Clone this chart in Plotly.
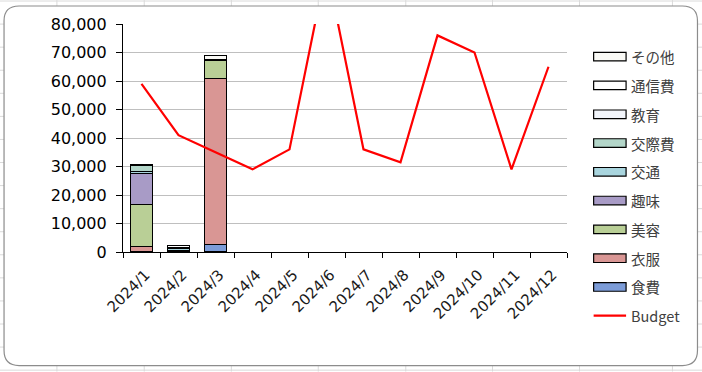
import plotly.graph_objects as go

# ---------------- data ----------------
months = ["2024/1", "2024/2", "2024/3", "2024/4", "2024/5", "2024/6",
          "2024/7", "2024/8", "2024/9", "2024/10", "2024/11", "2024/12"]

shokuhi   = [0,    400,  2700, 0, 0, 0, 0, 0, 0, 0, 0, 0]      # 食費
ifuku     = [1800, 0,   58300, 0, 0, 0, 0, 0, 0, 0, 0, 0]      # 衣服
biyou     = [15000, 0,   6300, 0, 0, 0, 0, 0, 0, 0, 0, 0]      # 美容
shumi     = [10700, 0,      0, 0, 0, 0, 0, 0, 0, 0, 0, 0]      # 趣味
koutsu    = [700, 1000,     0, 0, 0, 0, 0, 0, 0, 0, 0, 0]      # 交通
kousaihi  = [2300,  0,      0, 0, 0, 0, 0, 0, 0, 0, 0, 0]      # 交際費
kyouiku   = [0,     0,      0, 0, 0, 0, 0, 0, 0, 0, 0, 0]      # 教育
tsuushin  = [200, 900,    300, 0, 0, 0, 0, 0, 0, 0, 0, 0]      # 通信費
sonota    = [100,   0,   1400, 0, 0, 0, 0, 0, 0, 0, 0, 0]      # その他

budget = [59000, 41000, 35000, 29000, 36000, 100000,
          36000, 31500, 76000, 70000, 29000, 65000]

series_names = ["食費", "衣服", "美容", "趣味", "交通", "交際費", "教育", "通信費", "その他"]
series_values = [shokuhi, ifuku, biyou, shumi, koutsu, kousaihi, kyouiku, tsuushin, sonota]
series_colors = ["#7C9CD8", "#D99694", "#B9CF96", "#A89BC6", "#A9D5DE",
                 "#B3D6C9", "#F2F5FB", "#FFFFFF", "#FAFAF6"]

y_ticks = [0, 10000, 20000, 30000, 40000, 50000, 60000, 70000, 80000]

# ---------------- geometry helpers ----------------
W, H = 702, 372
PL, PR, PT, PB = 123.3, 566.7, 24.0, 252.3   # plot area in pixels

def px(x):
    return (x - PL) / (PR - PL)

def py(y):
    return (PB - y) / (PB - PT)

fig = go.Figure()

for name, vals, col in zip(series_names, series_values, series_colors):
    fig.add_trace(go.Bar(
        x=months, y=[v if v else None for v in vals], name=name,
        marker=dict(color=col, line=dict(color="#000000", width=1.2)),
        showlegend=False,
    ))

fig.add_trace(go.Scatter(
    x=months, y=budget, name="Budget", mode="lines",
    line=dict(color="#FF0000", width=2.2),
    showlegend=False,
))

shapes = []
# spreadsheet cell grid behind the chart
for k in range(18):
    yy = 1 + 23.1 * k
    shapes.append(dict(type="line", xref="paper", yref="paper", layer="below",
                       x0=px(0), x1=px(W), y0=py(yy), y1=py(yy),
                       line=dict(color="#DADADA", width=1)))
for xx in [57.3, 144.5, 231.5, 318.3, 405.7, 492.3, 579.2, 672.0]:
    shapes.append(dict(type="line", xref="paper", yref="paper", layer="below",
                       x0=px(xx), x1=px(xx), y0=py(0), y1=py(H),
                       line=dict(color="#DADADA", width=1)))

# rounded chart area
x0, x1, y0, y1, r = 4.5, 697.0, 6.0, 366.0, 15.0
def P(x, y):
    return f"{px(x)},{py(y)}"
path = (f"M {P(x0 + r, y0)} L {P(x1 - r, y0)} Q {P(x1, y0)} {P(x1, y0 + r)} "
        f"L {P(x1, y1 - r)} Q {P(x1, y1)} {P(x1 - r, y1)} "
        f"L {P(x0 + r, y1)} Q {P(x0, y1)} {P(x0, y1 - r)} "
        f"L {P(x0, y0 + r)} Q {P(x0, y0)} {P(x0 + r, y0)} Z")
shapes.append(dict(type="path", xref="paper", yref="paper", layer="below",
                   path=path, fillcolor="#FFFFFF",
                   line=dict(color="#8C8C8C", width=1.2)))

# custom legend
legend_y = [56.7, 85.5, 114.4, 143.2, 172.0, 200.8, 229.7, 258.5, 287.3, 316.0]
legend_order = list(range(len(series_names)))[::-1]   # その他 ... 食費
annotations = []
sx0, sx1 = 593.3, 625.7
for i, idx in enumerate(legend_order):
    yc = legend_y[i]
    shapes.append(dict(type="rect", xref="paper", yref="paper", layer="above",
                       x0=px(sx0), x1=px(sx1), y0=py(yc - 4.3), y1=py(yc + 4.3),
                       fillcolor=series_colors[idx],
                       line=dict(color="#000000", width=1.2)))
    annotations.append(dict(xref="paper", yref="paper", x=px(629), y=py(yc),
                            xanchor="left", yanchor="middle", showarrow=False,
                            text=series_names[idx],
                            font=dict(family="Noto Sans CJK JP", size=14.5, color="#404040")))
yc = legend_y[-1]
shapes.append(dict(type="line", xref="paper", yref="paper", layer="above",
                   x0=px(sx0), x1=px(sx1), y0=py(yc), y1=py(yc),
                   line=dict(color="#FF0000", width=2.2)))
annotations.append(dict(xref="paper", yref="paper", x=px(629), y=py(yc),
                        xanchor="left", yanchor="middle", showarrow=False,
                        text="Budget",
                        font=dict(family="Noto Sans CJK JP", size=14.5, color="#404040")))

fig.update_layout(
    width=W, height=H,
    template="none",
    barmode="stack", bargap=0.41,
    margin=dict(l=PL, r=W - PR, t=PT, b=H - PB, pad=0, autoexpand=False),
    paper_bgcolor="#FFFFFF",
    plot_bgcolor="rgba(0,0,0,0)",
    showlegend=False,
    shapes=shapes,
    annotations=annotations,
    xaxis=dict(type="category", categoryorder="array", categoryarray=months,
               tickson="boundaries", ticks="outside", ticklen=5, tickwidth=1,
               tickcolor="#000000", showline=True, linecolor="#000000", linewidth=1.2,
               showgrid=False, zeroline=False, tickangle=-45, automargin=False,
               ticklabelshift=4, ticklabelstandoff=7,
               tickfont=dict(family="DejaVu Sans", size=15, color="#1A1A1A")),
    yaxis=dict(range=[0, 80000], tickvals=y_ticks, tickformat=",",
               ticks="outside", ticklen=6, tickwidth=1, tickcolor="#000000",
               showline=True, linecolor="#000000", linewidth=1.2,
               showgrid=True, gridcolor="#BFBFBF", gridwidth=1, zeroline=False,
               automargin=False, ticklabelstandoff=6,
               tickfont=dict(family="DejaVu Sans", size=16, color="#000000")),
)

fig.write_html("out.html")
